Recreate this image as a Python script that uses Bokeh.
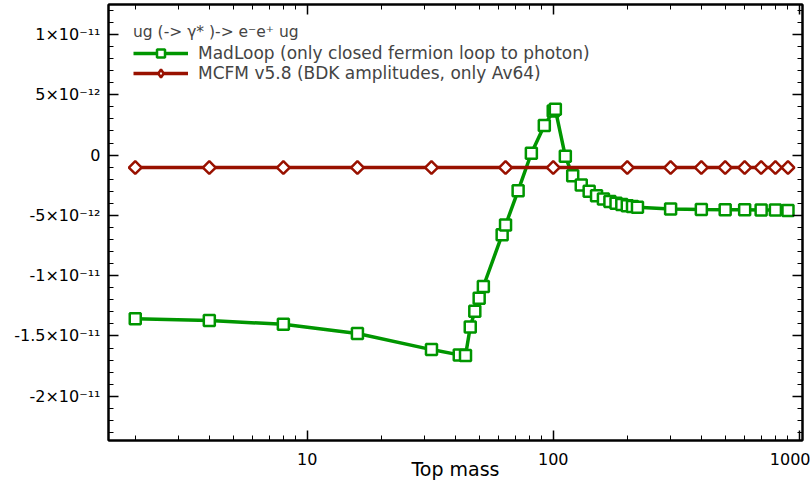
import numpy as np
from bokeh.plotting import figure
from bokeh.models import (Range1d, FixedTicker, LogAxis, LinearAxis,
                          CustomJSTickFormatter, Legend, LegendItem)
from bokeh.embed import file_html
from bokeh.resources import INLINE

# ---- data ----
madloop_mass = [2, 4, 8, 16, 32, 41.5, 44, 46, 48, 50, 52, 62, 64, 72, 81.5, 92,
                100, 102, 112, 120, 130, 140, 150, 160, 170, 180, 190, 200, 210,
                220, 300, 400, 500, 600, 700, 800, 900]
madloop_value = [-1.358e-11, -1.372e-11, -1.403e-11, -1.480e-11, -1.613e-11,
                 -1.657e-11, -1.663e-11, -1.425e-11, -1.295e-11, -1.187e-11,
                 -1.090e-11, -6.6e-12, -5.8e-12, -2.95e-12, 1.5e-13, 2.45e-12,
                 3.65e-12, 3.8e-12, -1.0e-13, -1.72e-12, -2.48e-12, -3.0e-12,
                 -3.38e-12, -3.65e-12, -3.85e-12, -3.99e-12, -4.1e-12, -4.21e-12,
                 -4.27e-12, -4.32e-12, -4.47e-12, -4.52e-12, -4.54e-12, -4.54e-12,
                 -4.55e-12, -4.55e-12, -4.6e-12]

mcfm_mass = [2, 4, 8, 16, 32, 64, 100, 200, 300, 400, 500, 600, 700, 800, 900]
mcfm_value = [-1.03e-12, -1.03e-12, -1.03e-12, -1.03e-12, -1.03e-12, -1.03e-12,
              -1.03e-12, -1.03e-12, -1.03e-12, -1.03e-12, -1.03e-12, -1.03e-12,
              -1.03e-12, -1.03e-12, -1.03e-12]

x_major_ticks = [10, 100, 1000]
x_tick_labels = ["10", "100", "1000"]
x_minor_ticks = [2, 3, 4, 5, 6, 7, 8, 9, 20, 30, 40, 50, 60, 70, 80, 90,
                 200, 300, 400, 500, 600, 700, 800, 900]

y_major_ticks = [-2e-11, -1.5e-11, -1e-11, -5e-12, 0.0, 5e-12, 1e-11]
y_tick_labels = ["-2×10⁻¹¹", "-1.5×10⁻¹¹", "-1×10⁻¹¹", "-5×10⁻¹²", "0",
                 "5×10⁻¹²", "1×10⁻¹¹"]
y_minor_ticks = [-2.3e-11, -2.2e-11, -2.1e-11, -1.9e-11, -1.8e-11, -1.7e-11,
                 -1.6e-11, -1.4e-11, -1.3e-11, -1.2e-11, -1.1e-11, -9e-12,
                 -8e-12, -7e-12, -6e-12, -4e-12, -3e-12, -2e-12, -1e-12, 1e-12,
                 2e-12, 3e-12, 4e-12, 6e-12, 7e-12, 8e-12, 9e-12, 1.1e-11,
                 1.2e-11]

legend_title = "ug (-> γ* )-> e⁻e⁺ ug"
label_madloop = "MadLoop (only closed fermion loop to photon)"
label_mcfm = "MCFM v5.8 (BDK amplitudes, only Av64)"

GREEN = "#009600"
RED = "#991100"
FONT = "DejaVu Sans"

p = figure(width=810, height=485, x_axis_type="log",
           x_range=Range1d(1.557, 1031), y_range=Range1d(-2.367e-11, 1.249e-11),
           output_backend="svg", toolbar_location=None,
           min_border_left=108, min_border_right=8, min_border_top=4,
           min_border_bottom=45)
p.grid.visible = False
p.outline_line_color = "black"
p.outline_line_width = 2
p.background_fill_color = "white"
p.border_fill_color = "white"

fmt_code = """
let best = 0, d = Infinity;
for (let i = 0; i < major_vals.length; i++) {
  const e = Math.abs(major_vals[i] - tick);
  if (e < d) { d = e; best = i; }
}
return major_labels[best];
"""

xticker = FixedTicker(ticks=x_major_ticks, minor_ticks=x_minor_ticks)
yticker = FixedTicker(ticks=y_major_ticks, minor_ticks=y_minor_ticks)


def style_axis(ax, show_labels=True):
    ax.axis_line_color = "black"
    ax.axis_line_width = 2
    ax.major_tick_in = 10
    ax.major_tick_out = 0
    ax.minor_tick_in = 5
    ax.minor_tick_out = 0
    ax.major_tick_line_width = 1.5
    ax.minor_tick_line_width = 1
    ax.major_tick_line_color = "black"
    ax.minor_tick_line_color = "black"
    if show_labels:
        ax.major_label_text_font = FONT
        ax.major_label_text_font_size = "16px"
        ax.major_label_text_color = "black"
    else:
        ax.major_label_text_font_size = "1px"
        ax.major_label_text_color = None
        ax.major_label_standoff = 0


xa = p.xaxis[0]
xa.ticker = xticker
xa.formatter = CustomJSTickFormatter(
    args=dict(major_vals=x_major_ticks, major_labels=x_tick_labels), code=fmt_code)
style_axis(xa)
xa.major_label_standoff = 12
xa.axis_label = "Top mass"
xa.axis_label_text_font = FONT
xa.axis_label_text_font_size = "19px"
xa.axis_label_text_font_style = "normal"
xa.axis_label_text_color = "black"
xa.axis_label_standoff = -10

ya = p.yaxis[0]
ya.ticker = yticker
ya.formatter = CustomJSTickFormatter(
    args=dict(major_vals=y_major_ticks, major_labels=y_tick_labels), code=fmt_code)
style_axis(ya)
ya.major_label_standoff = 8

top = LogAxis(ticker=xticker,
              formatter=CustomJSTickFormatter(code="return ' ';"))
style_axis(top, show_labels=False)
p.add_layout(top, "above")

right = LinearAxis(ticker=yticker,
                   formatter=CustomJSTickFormatter(code="return ' ';"))
style_axis(right, show_labels=False)
p.add_layout(right, "right")

r1 = p.line(madloop_mass, madloop_value, line_color=GREEN, line_width=3.5)
s1 = p.scatter(madloop_mass, madloop_value, marker="square", size=11,
               fill_color="white", line_color=GREEN, line_width=2.5)
r2 = p.line(mcfm_mass, mcfm_value, line_color=RED, line_width=3.5)
# diamond key for the legend (drawn underneath the rotated squares, so hidden)
s2_key = p.scatter(mcfm_mass, mcfm_value, marker="diamond", size=10,
                   fill_color="white", line_color=RED, line_width=2.5)
s2 = p.scatter(mcfm_mass, mcfm_value, marker="square", angle=np.pi / 4, size=9,
               fill_color="white", line_color=RED, line_width=2.5)

legend = Legend(items=[LegendItem(label=label_madloop, renderers=[r1, s1]),
                       LegendItem(label=label_mcfm, renderers=[r2, s2_key])],
                location=(25, 357), title=legend_title)
legend.border_line_color = None
legend.background_fill_alpha = 0
legend.label_text_font = FONT
legend.label_text_font_size = "17px"
legend.title_text_font = FONT
legend.title_text_font_size = "15.5px"
legend.title_text_font_style = "normal"
legend.glyph_width = 55
legend.glyph_height = 20
legend.label_height = 20
legend.label_standoff = 10
legend.spacing = 0
legend.padding = 0
legend.margin = 0
legend.title_standoff = 2
p.add_layout(legend, "center")

open("out.html", "w").write(file_html(p, INLINE))
